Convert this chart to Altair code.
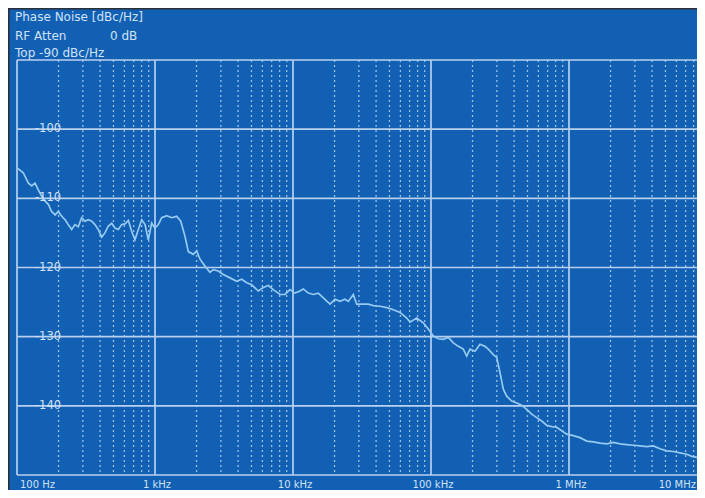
import altair as alt
import pandas as pd

# ---------------- data ----------------
header_title = "Phase Noise [dBc/Hz]"
header_atten_label = "RF Atten"
header_atten_value = "0 dB"
header_top = "Top -90 dBc/Hz"

freq_hz = [
    100, 111, 121, 128, 135, 143, 151, 160, 169, 178, 189, 199, 211, 223, 235,
    249, 263, 278, 294, 311, 329, 348, 367, 388, 411, 434, 459, 486, 513, 542,
    574, 606, 641, 678, 716, 757, 801, 847, 894, 946, 1000, 1057, 1118, 1216,
    1321, 1436, 1536, 1650, 1743, 1895, 2005, 2119, 2303, 2503, 2645, 2875,
    3125, 3495, 3908, 4249, 4618, 5019, 5605, 6092, 6623, 7198, 8051, 8751,
    9512, 10339, 11238, 11873, 12910, 14033, 15253, 16581, 18540, 20156,
    21910, 23814, 25160, 27353, 28948, 31467, 35131, 38187, 42698, 47746,
    53310, 59622, 66678, 70440, 78779, 87967, 95595, 103914, 112970, 122790,
    133470, 145080, 157710, 171410, 181420, 191670, 208400, 226500, 246200,
    260200, 282800, 299300, 316200, 334100, 353600, 384400, 417800, 454200,
    493700, 536700, 583300, 634100, 689200, 749200, 814400, 885200, 962300,
    1074300, 1201500, 1343400, 1499900, 1677200, 1875400, 2094000, 2341000,
    2618000, 2923000, 3268000, 3656000, 4081000, 4564000, 5104000, 5699000,
    6372000, 7127000, 7747000, 8648000, 9672000, 10000000,
]
noise_dbc = [
    -105.6, -106.3, -107.8, -108.2, -107.8, -108.8, -109.7, -110.4, -110.9,
    -111.9, -112.4, -111.9, -112.6, -113.1, -113.8, -114.5, -113.8, -114.1,
    -112.8, -113.3, -113.1, -113.3, -113.8, -114.5, -115.6, -115.0, -114.0,
    -113.6, -114.3, -114.5, -113.8, -113.7, -113.2, -114.8, -116.0, -114.5,
    -113.1, -113.8, -116.0, -113.6, -114.3, -113.8, -112.8, -112.5, -112.8,
    -112.6, -113.3, -115.5, -117.7, -118.1, -117.6, -118.8, -119.8, -120.7,
    -120.3, -120.5, -121.0, -121.5, -122.0, -121.7, -122.2, -122.5, -123.4,
    -122.9, -122.6, -123.2, -123.9, -123.9, -123.2, -123.7, -123.4, -123.1,
    -123.7, -123.9, -123.7, -124.4, -125.3, -124.6, -124.9, -124.6, -124.9,
    -123.9, -125.3, -125.3, -125.3, -125.5, -125.6, -125.8, -126.1, -126.5,
    -127.3, -127.9, -127.3, -128.0, -128.9, -129.9, -130.3, -130.4, -130.1,
    -130.9, -131.4, -131.8, -132.8, -131.8, -132.1, -131.1, -131.4, -131.8,
    -132.6, -133.0, -135.2, -137.6, -138.6, -139.3, -139.6, -139.9, -140.5,
    -141.2, -141.7, -142.2, -142.8, -143.0, -143.1, -143.6, -144.1, -144.3,
    -144.6, -145.1, -145.2, -145.4, -145.5, -145.3, -145.5, -145.6, -145.7,
    -145.8, -145.9, -145.8, -146.2, -146.5, -146.6, -146.8, -147.0, -147.3,
    -147.5, -147.7, -147.8,
]

y_grid_levels = [-100, -110, -120, -130, -140]
y_label_texts = ["-100", "-110", "-120", "-130", "-140"]
y_frame_levels = [-90, -150]
x_frame_freq = [100]
x_decade_freqs = [1e3, 1e4, 1e5, 1e6]
x_minor_freqs = [m * 10 ** k for k in range(2, 7) for m in range(2, 10)]
x_label_freqs = [1e2, 1e3, 1e4, 1e5, 1e6]
x_label_texts = ["100 Hz", "1 kHz", "10 kHz", "100 kHz", "1 MHz"]
x_last_label = "10 MHz"

# ---------------- styling ----------------
W, H = 680, 415
BLUE = "#1160b4"
GRID = "#b8d0ee"
DOT = "#cfe0f6"
TRACE = "#96caf2"
TEXT = "#d2e2f6"
FONT = "DejaVu Sans"

# visible part of the 5-decade axis (the screen is cropped on the right)
x_max = 10 ** (2 + 5 * W / 690)
xs = alt.Scale(type="log", domain=[100, x_max])
ys = alt.Scale(domain=[-150, -90])

trace_df = pd.DataFrame({"f": freq_hz, "v": noise_dbc})
hgrid_df = pd.DataFrame({"v": y_grid_levels, "t": y_label_texts})
hframe_df = pd.DataFrame({"v": y_frame_levels})
vframe_df = pd.DataFrame({"f": x_frame_freq})
vdec_df = pd.DataFrame({"f": x_decade_freqs})
vmin_df = pd.DataFrame({"f": x_minor_freqs})
xlab_df = pd.DataFrame({"f": x_label_freqs, "t": x_label_texts})

minor = alt.Chart(vmin_df).mark_rule(
    color=DOT, strokeWidth=1.3, strokeDash=[2, 3], opacity=0.75
).encode(x=alt.X("f:Q", scale=xs, axis=None), y=alt.value(0), y2=alt.value(H))

decades = alt.Chart(vdec_df).mark_rule(color=GRID, strokeWidth=1.7).encode(
    x=alt.X("f:Q", scale=xs, axis=None), y=alt.value(0), y2=alt.value(H)
)
vframe = alt.Chart(vframe_df).mark_rule(color=GRID, strokeWidth=1.7).encode(
    x=alt.X("f:Q", scale=xs, axis=None), y=alt.value(0), y2=alt.value(H)
)
hgrid = alt.Chart(hgrid_df).mark_rule(color=GRID, strokeWidth=1.7).encode(
    y=alt.Y("v:Q", scale=ys, axis=None), x=alt.value(0), x2=alt.value(W)
)
hframe = alt.Chart(hframe_df).mark_rule(color=GRID, strokeWidth=1.7).encode(
    y=alt.Y("v:Q", scale=ys, axis=None), x=alt.value(0), x2=alt.value(W)
)

trace = alt.Chart(trace_df).mark_line(
    color=TRACE, strokeWidth=1.7, clip=True, interpolate="linear"
).encode(
    x=alt.X("f:Q", scale=xs, axis=None),
    y=alt.Y("v:Q", scale=ys, axis=None),
    order=alt.Order("f:Q"),
)

ylabels = alt.Chart(hgrid_df).mark_text(
    font=FONT, fontSize=11.5, color=TEXT, align="center", baseline="middle"
).encode(y=alt.Y("v:Q", scale=ys, axis=None), x=alt.value(31), text="t:N")

LAB_Y = H + 10
xlab_first = alt.Chart(xlab_df).transform_filter(alt.datum.f < 500).mark_text(
    font=FONT, fontSize=10, color=TEXT, align="left", baseline="middle", dx=3
).encode(x=alt.X("f:Q", scale=xs, axis=None), y=alt.value(LAB_Y), text="t:N")
xlab_rest = alt.Chart(xlab_df).transform_filter(alt.datum.f > 500).mark_text(
    font=FONT, fontSize=10, color=TEXT, align="center", baseline="middle", dx=2
).encode(x=alt.X("f:Q", scale=xs, axis=None), y=alt.value(LAB_Y), text="t:N")
xlab_last = alt.Chart(pd.DataFrame({"t": [x_last_label]})).mark_text(
    font=FONT, fontSize=10, color=TEXT, align="right", baseline="middle"
).encode(x=alt.value(W - 1), y=alt.value(LAB_Y), text="t:N")


def header(txt, x, y):
    return alt.Chart(pd.DataFrame({"t": [txt]})).mark_text(
        font=FONT, fontSize=12, color=TEXT, align="left", baseline="middle"
    ).encode(x=alt.value(x), y=alt.value(y), text="t:N")


h1 = header(header_title, -2, -43)
h2 = header(header_atten_label, -2, -24)
h3 = header(header_atten_value, 93, -24)
h4 = header(header_top, -2, -7)

border_left = alt.Chart(pd.DataFrame({"t": [0]})).mark_rule(
    color="#2a2f38", strokeWidth=1.5
).encode(x=alt.value(-8.2), y=alt.value(-52), y2=alt.value(H + 30))
border_top = alt.Chart(pd.DataFrame({"t": [0]})).mark_rule(
    color="#2a2f38", strokeWidth=1.5
).encode(y=alt.value(-51.2), x=alt.value(-9), x2=alt.value(W))

chart = alt.layer(
    minor, decades, vframe, hgrid, hframe, trace, ylabels,
    xlab_first, xlab_rest, xlab_last, h1, h2, h3, h4, border_left, border_top,
).properties(
    width=W,
    height=H,
    autosize=alt.AutoSizeParams(type="none"),
    padding={"left": 9, "top": 52, "right": 0, "bottom": 15},
    background=BLUE,
).configure_view(stroke=None)

chart.save("out.html", embed_options={"renderer": "svg", "actions": False})
